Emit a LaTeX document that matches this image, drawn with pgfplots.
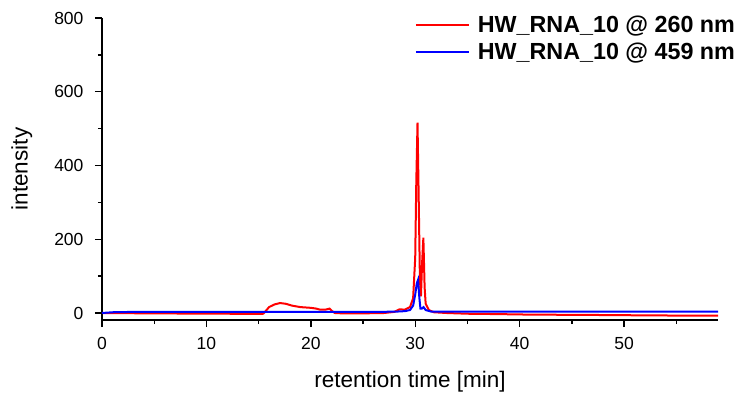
\documentclass[border=0pt]{standalone}
\usepackage{fontspec}
\setmainfont{Liberation Sans}
\usepackage{pgfplots}
\pgfplotsset{compat=1.18}

\begin{document}
\begin{tikzpicture}
\begin{axis}[
    scale only axis,
    width=616pt,
    height=302pt,
    xmin=0, xmax=59,
    ymin=-19, ymax=800,
    axis x line*=bottom,
    axis y line*=left,
    axis line style={line width=1.4pt, -},
    xtick={0,10,20,30,40,50},
    minor xtick={5,15,25,35,45,55},
    ytick={0,200,400,600,800},
    minor ytick={100,300,500,700},
    tick align=outside,
    major tick length=7pt,
    minor tick length=4pt,
    every tick/.style={line width=1.4pt, black},
    tick label style={font=\fontsize{17.5}{20}\selectfont},
    xticklabel style={yshift=-7pt},
    yticklabel style={xshift=-8pt},
    /pgf/number format/assume math mode=true,
    xlabel={retention time [min]},
    ylabel={intensity},
    every axis x label/.style={at={(axis description cs:0.5,-0.205)}, anchor=center},
    every axis y label/.style={at={(axis description cs:-0.13,0.5)}, rotate=90, anchor=center},
    label style={font=\fontsize{22.5}{26}\selectfont},
    legend style={
        draw=none, fill=none,
        at={(1.036,1.03)}, anchor=north east,
        font=\fontsize{23.3}{27}\bfseries\selectfont,
        row sep=1pt,
    },
    legend cell align=left,
    legend image code/.code={\draw[line width=1.5pt, #1] (0pt,0pt) -- (53pt,0pt); \path (59pt,-11pt) (59pt,13pt);},
]

\addplot[red, line width=2pt] coordinates {
    (0, 0) (2, -0.5) (5, -1) (8, -1.5) (10, -2) (12, -2) (15, -2.5) (15.45, -2)
    (15.7, 6) (16.0, 16) (16.5, 23) (17.05, 27) (17.6, 25) (18.2, 20)
    (19.0, 16) (20.0, 14) (20.5, 12) (20.9, 9) (21.4, 9) (21.8, 12) (22.0, 6)
    (22.3, 0) (23, -1) (25, -1) (27, 0) (28, 3) (28.5, 10) (29.0, 9)
    (29.5, 16) (29.8, 40) (30.0, 150) (30.1, 350) (30.22, 516) (30.35, 280)
    (30.45, 90) (30.55, 45) (30.65, 130) (30.78, 204) (30.9, 70) (31.0, 25)
    (31.3, 8) (31.8, 2) (33, 0) (35, -2) (38, -3) (40, -4) (42, -4.5)
    (45, -5) (48, -5.5) (50, -6) (53, -6.5) (55, -7) (59, -7)
};
\addlegendentry{HW\_RNA\_10 @ 260 nm}

\addplot[blue, line width=2pt] coordinates {
    (0, 0) (1, 2) (3, 3) (10, 3) (15, 3) (20, 3) (25, 3) (28, 3.5) (29.0, 5)
    (29.5, 8) (29.8, 20) (30.0, 50) (30.15, 80) (30.27, 90) (30.4, 40)
    (30.5, 12) (30.65, 12) (30.8, 16) (31.0, 8) (31.5, 4) (33, 3.5)
    (40, 4) (45, 4) (50, 4) (59, 4)
};
\addlegendentry{HW\_RNA\_10 @ 459 nm}

\end{axis}
\pgfresetboundingbox
\path[use as bounding box] (-102pt,-80pt) rectangle (640pt,320pt);
\end{tikzpicture}
\end{document}
